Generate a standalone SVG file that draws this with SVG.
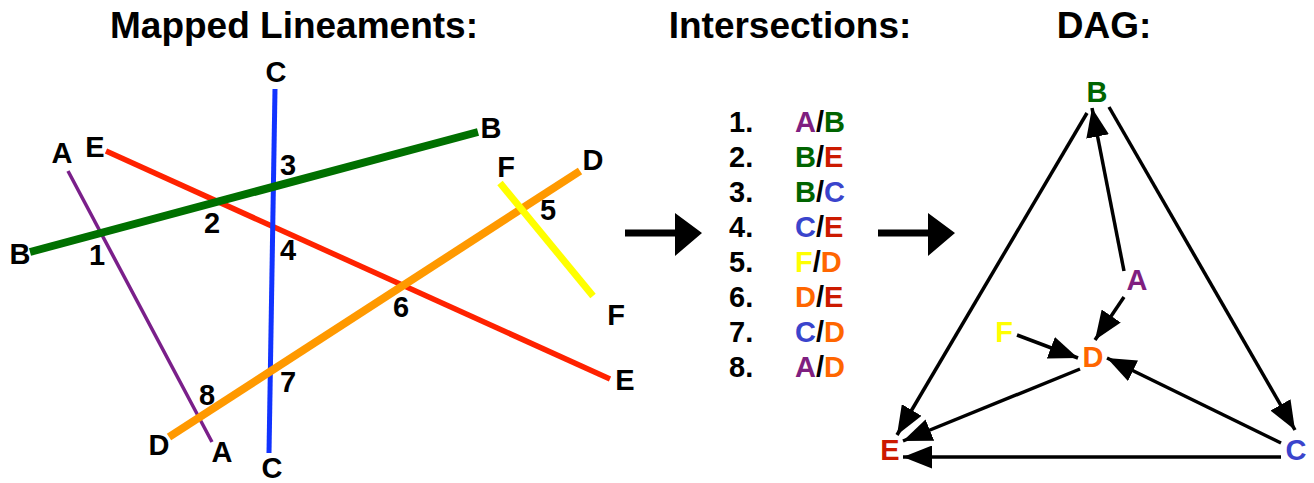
<svg xmlns="http://www.w3.org/2000/svg" width="1314" height="483" viewBox="0 0 1314 483">
  <style>
    text { font-family: "Liberation Sans", Arial, sans-serif; font-weight: bold; }
    .title { font-size: 37px; fill: #000; text-anchor: middle; }
    .lbl { font-size: 29px; fill: #000; text-anchor: middle; }
    .row { font-size: 29px; fill: #000; }
    .node { font-size: 29px; text-anchor: middle; }
    .edge { stroke: #000; stroke-width: 3.5; fill: none; marker-end: url(#head); }
    .cA { fill: #7f1f80; } .cB { fill: #006400; } .cC { fill: #3a44cc; }
    .cD { fill: #ff6600; } .cE { fill: #cc1a00; } .cF { fill: #ffff00; }
  </style>
  <defs>
    <marker id="head" markerUnits="userSpaceOnUse" markerWidth="29" markerHeight="23" refX="29" refY="11.5" orient="auto">
      <path d="M0,0 L29,11.5 L0,23 z" fill="#000"/>
    </marker>
  </defs>

  <rect width="1314" height="483" fill="#fff"/>

  <!-- Headings -->
  <text class="title" x="294" y="38">Mapped Lineaments:</text>
  <text class="title" x="790" y="38">Intersections:</text>
  <text class="title" x="1104" y="38">DAG:</text>

  <!-- Lineament map -->
  <g id="lineaments">
    <line id="line-A" x1="68" y1="171" x2="212" y2="442" stroke="#7a1f8a" stroke-width="3.5"/>
    <line id="line-E" x1="106" y1="151" x2="610" y2="379" stroke="#ff2200" stroke-width="5.5"/>
    <line id="line-C" x1="275" y1="89" x2="269" y2="453" stroke="#1133ff" stroke-width="5"/>
    <line id="line-B" x1="30" y1="252" x2="478" y2="132" stroke="#007000" stroke-width="8"/>
    <line id="line-D" x1="169" y1="437" x2="580" y2="171" stroke="#ff9900" stroke-width="8"/>
    <line id="line-F" x1="500" y1="183" x2="593" y2="296" stroke="#ffff00" stroke-width="7"/>
  </g>
  <g id="lineament-labels">
    <text class="lbl" x="62" y="163">A</text>
    <text class="lbl" x="222" y="462">A</text>
    <text class="lbl" x="95" y="157">E</text>
    <text class="lbl" x="625" y="390">E</text>
    <text class="lbl" x="20" y="264">B</text>
    <text class="lbl" x="491" y="138">B</text>
    <text class="lbl" x="276" y="82">C</text>
    <text class="lbl" x="272" y="478">C</text>
    <text class="lbl" x="506" y="177">F</text>
    <text class="lbl" x="616" y="325">F</text>
    <text class="lbl" x="593" y="170">D</text>
    <text class="lbl" x="159" y="455">D</text>
    <text class="lbl" x="97" y="265">1</text>
    <text class="lbl" x="212" y="233">2</text>
    <text class="lbl" x="288" y="175">3</text>
    <text class="lbl" x="288" y="260">4</text>
    <text class="lbl" x="548" y="220">5</text>
    <text class="lbl" x="401" y="317">6</text>
    <text class="lbl" x="288" y="392">7</text>
    <text class="lbl" x="207" y="405">8</text>
  </g>

  <!-- Stage arrows -->
  <g id="stage-arrows" fill="#000">
    <path d="M625,229.5 H675 V213 L702,233 L675,256 V236.5 H625 z"/>
    <path d="M878,229.5 H928 V213 L955,233 L928,256 V236.5 H878 z"/>
  </g>

  <!-- Intersection list -->
  <g id="intersections">
    <text class="row" x="729" y="132">1.</text><text class="row" x="795" y="132"><tspan class="cA">A</tspan>/<tspan class="cB">B</tspan></text>
    <text class="row" x="729" y="167">2.</text><text class="row" x="795" y="167"><tspan class="cB">B</tspan>/<tspan class="cE">E</tspan></text>
    <text class="row" x="729" y="202">3.</text><text class="row" x="795" y="202"><tspan class="cB">B</tspan>/<tspan class="cC">C</tspan></text>
    <text class="row" x="729" y="237">4.</text><text class="row" x="795" y="237"><tspan class="cC">C</tspan>/<tspan class="cE">E</tspan></text>
    <text class="row" x="729" y="272">5.</text><text class="row" x="795" y="272"><tspan class="cF">F</tspan>/<tspan class="cD">D</tspan></text>
    <text class="row" x="729" y="307">6.</text><text class="row" x="795" y="307"><tspan class="cD">D</tspan>/<tspan class="cE">E</tspan></text>
    <text class="row" x="729" y="342">7.</text><text class="row" x="795" y="342"><tspan class="cC">C</tspan>/<tspan class="cD">D</tspan></text>
    <text class="row" x="729" y="377">8.</text><text class="row" x="795" y="377"><tspan class="cA">A</tspan>/<tspan class="cD">D</tspan></text>
  </g>

  <!-- DAG edges -->
  <g id="dag-edges">
    <line class="edge" x1="1087" y1="113" x2="897" y2="435"/>
    <line class="edge" x1="1109" y1="107" x2="1295" y2="430"/>
    <line class="edge" x1="1124" y1="271" x2="1092" y2="108"/>
    <line class="edge" x1="1124" y1="297" x2="1095" y2="340"/>
    <line class="edge" x1="1017" y1="335" x2="1078" y2="358"/>
    <line class="edge" x1="1080" y1="369" x2="903" y2="441"/>
    <line class="edge" x1="1281" y1="443" x2="1107" y2="358"/>
    <line class="edge" x1="1281" y1="457" x2="903" y2="457"/>
  </g>

  <!-- DAG nodes -->
  <g id="node-B"><text class="node cB" x="1097" y="102">B</text></g>
  <g id="node-A"><text class="node cA" x="1137" y="290">A</text></g>
  <g id="node-F"><text class="node cF" x="1004" y="342">F</text></g>
  <g id="node-D"><text class="node cD" x="1093" y="367">D</text></g>
  <g id="node-E"><text class="node cE" x="890" y="460">E</text></g>
  <g id="node-C"><text class="node cC" x="1296" y="460">C</text></g>
</svg>
